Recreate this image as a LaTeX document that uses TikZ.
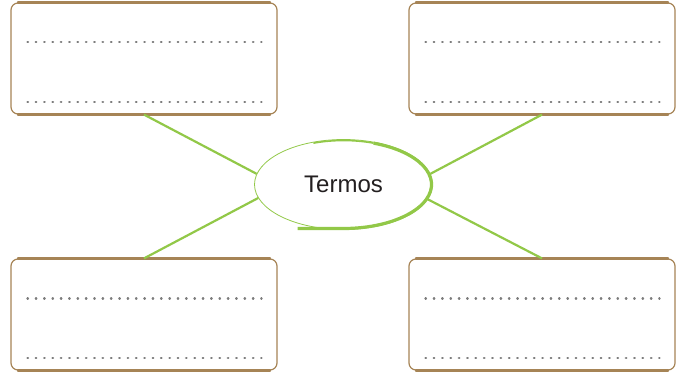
\documentclass[tikz,border=0pt]{standalone}
\usepackage{fontspec}
\setmainfont{Liberation Sans}
\usetikzlibrary{shapes.geometric}
\definecolor{gg}{RGB}{146, 200, 72}
\definecolor{bb}{RGB}{166, 132, 86}
\definecolor{yy}{RGB}{252, 214, 108}
\definecolor{dd}{RGB}{125, 125, 125}
\definecolor{tt}{RGB}{35, 31, 32}

\begin{document}
\begin{tikzpicture}[
box/.style={rectangle, rounded corners=7pt, minimum width=266pt, minimum height=111pt, inner sep=0pt, line width=1.2pt, draw=bb, fill=white},
dotrow/.style={line width=2.2pt, color=dd, line cap=round, dash pattern=on 0.6pt off 7.75pt},
link/.style={line width=2.2pt, color=gg}]
\useasboundingbox (0pt, 0pt) rectangle (684pt, -374pt);
\node (c) [ellipse, minimum width=178pt, minimum height=90pt, inner sep=0pt, line width=0.8pt, draw=gg, text=tt, font=\fontsize{24}{28}\selectfont] at (343.5pt, -184.5pt) {Termos};
\node (1) [box] at (144pt, -58.5pt) {};
\node (2) [box] at (542pt, -58.5pt) {};
\node (3) [box] at (144pt, -314.5pt) {};
\node (4) [box] at (542pt, -314.5pt) {};
% gold sheen on the edges and the dotted rows
\foreach \b in {1,...,4} {
  \shade [left color=bb, middle color=yy, right color=bb] ([xshift=7pt, yshift=-0.7pt]\b.north west) rectangle ([xshift=-7pt, yshift=0.7pt]\b.north east);
  \shade [left color=bb, middle color=yy, right color=bb] ([xshift=7pt, yshift=-0.7pt]\b.south west) rectangle ([xshift=-7pt, yshift=0.7pt]\b.south east);
  \draw [dotrow] ([xshift=17pt, yshift=-40pt]\b.north west) -- ([xshift=-16pt, yshift=-40pt]\b.north east);
  \draw [dotrow] ([xshift=17pt, yshift=12.5pt]\b.south west) -- ([xshift=-16pt, yshift=12.5pt]\b.south east);
}
\draw [link] (1.south) to (c.173);
\draw [link] (3.north) to (c.189);
\draw [link] (2.south) to (c.7);
\draw [link] (4.north) to (c.-10);
% brush stroke round the ellipse
\draw [gg, line width=1.6pt] ([shift={(110:88pt and 44pt)}]c.center) arc [start angle=110, end angle=70, x radius=88pt, y radius=44pt];
\draw [gg, line width=3.2pt] ([shift={(70:88pt and 44pt)}]c.center) arc [start angle=70, end angle=-90, x radius=88pt, y radius=44pt] -- ++(-46pt, 0pt);
\end{tikzpicture}
\end{document}
